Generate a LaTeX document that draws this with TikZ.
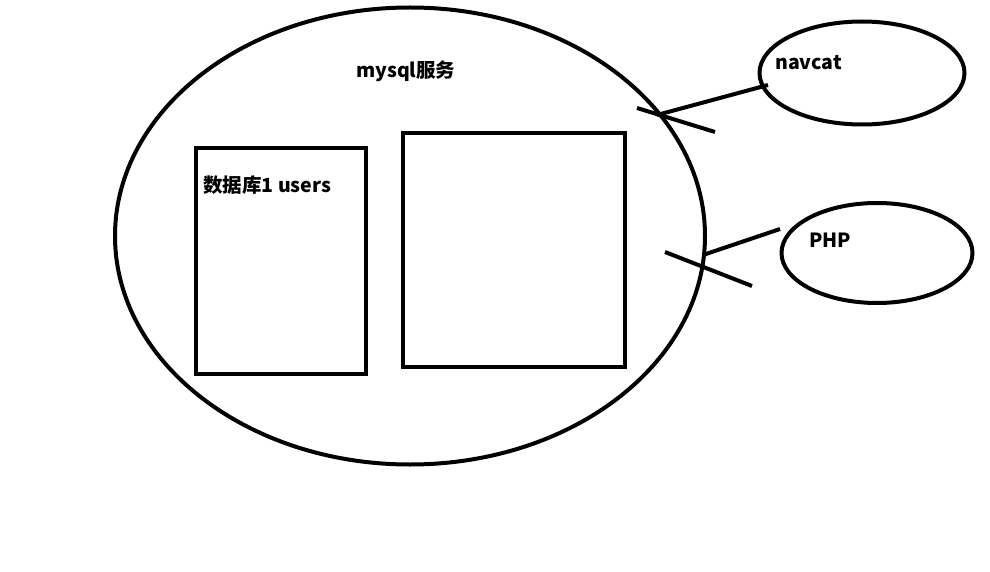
\documentclass[tikz,border=0pt]{standalone}
\usepackage{fontspec}
\setmainfont{Noto Sans CJK SC}
\usetikzlibrary{shapes.geometric}
\begin{document}
\begin{tikzpicture}[x=1pt,y=-1pt,
  stroke/.style={line width=4pt, black},
  oval/.style={stroke, draw, ellipse, inner sep=0pt},
  box/.style={stroke, draw, rectangle, inner sep=0pt},
  lbl/.style={font=\bfseries\fontsize{19.5}{22}\selectfont, inner sep=0pt, anchor=west}]
\useasboundingbox (0,0) rectangle (990,572);
% main mysql service ellipse
\node[oval, minimum width=590pt, minimum height=457pt] (mysql) at (410,236) {};
\node[lbl] (mysqlt) at (356,71) {mysql服务};
% database boxes
\node[box, minimum width=170pt, minimum height=226pt] (db1) at (281,261) {};
\node[lbl] (db1t) at (203,185) {数据库1 users};
\node[box, minimum width=222pt, minimum height=234pt] (db2) at (514,250) {};
% clients
\node[oval, minimum width=205pt, minimum height=103pt] (navcat) at (862,73) {};
\node[lbl] (navcatt) at (775,63) {navcat};
\node[oval, minimum width=191pt, minimum height=100pt] (php) at (877,253) {};
\node[lbl] (phpt) at (809,240) {PHP};
% connectors
\coordinate (n1) at (768,85);
\coordinate (n2) at (657,115);
\coordinate (nc1) at (637,108);
\coordinate (nc2) at (715,132);
\draw[stroke] (n1) -- (n2);
\draw[stroke] (nc1) -- (nc2);
\coordinate (p1) at (780,229);
\coordinate (p2) at (703,255);
\coordinate (pc1) at (665,252);
\coordinate (pc2) at (752,286);
\draw[stroke] (p1) -- (p2);
\draw[stroke] (pc1) -- (pc2);
\end{tikzpicture}
\end{document}
